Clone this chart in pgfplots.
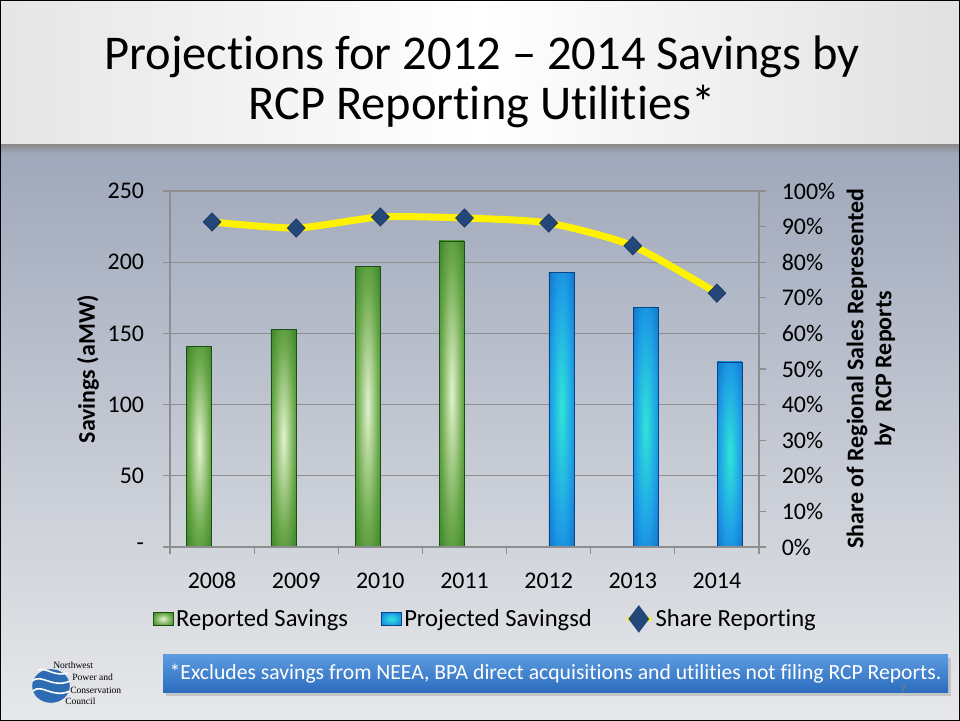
\documentclass[border=0pt]{standalone}
\usepackage{fontspec}
\setmainfont{Carlito}[Ligatures=NoCommon]
\newfontfamily\logofont{Liberation Serif}
\usepackage{pgfplots}
\pgfplotsset{compat=1.18}

\definecolor{bgtop}{HTML}{9EA7BA}
\definecolor{bgbot}{HTML}{E7E8EA}
\definecolor{gdark}{HTML}{257318}
\definecolor{gmid}{HTML}{6AA84A}
\definecolor{glight}{HTML}{E2F2CC}
\definecolor{bdark}{HTML}{0A62C2}
\definecolor{bmid}{HTML}{1E9EE6}
\definecolor{blight}{HTML}{2FE6D8}
\definecolor{mk}{HTML}{24477A}
\definecolor{gridc}{HTML}{8E8E8E}
\definecolor{boxtop}{HTML}{5C9BDF}
\definecolor{boxbot}{HTML}{2A6BBE}
\definecolor{logoblue}{HTML}{2E6BB5}

\pgfdeclareradialshading{greenbar}{\pgfpoint{0bp}{0bp}}{%
  color(0bp)=(glight); color(22bp)=(gmid); color(42bp)=(gdark); color(50bp)=(gdark)}
\pgfdeclareradialshading{bluebar}{\pgfpoint{0bp}{0bp}}{%
  color(0bp)=(blight); color(22bp)=(bmid); color(42bp)=(bdark); color(50bp)=(bdark)}

\pgfplotsset{
  slide/.style={
    at={(4.25cm,4.35cm)}, anchor=south west,
    scale only axis, width=14.725cm, height=8.9cm,
    xmin=-0.5, xmax=6.5,
    tick align=outside, major tick length=0.175cm,
    axis line style={gridc, line width=0.8pt},
    tick style={gridc, line width=0.8pt},
    tick label style={font=\fontsize{17}{20}\selectfont},
  },
  rep/.style={ybar, bar width=0.625cm, bar shift=-0.32cm, draw=gdark!70!black,
    line width=0.4pt, shading=greenbar},
  proj/.style={ybar, bar width=0.625cm, bar shift=0.32cm, draw=bdark!70!black,
    line width=0.4pt, shading=bluebar},
}

\begin{document}
\begin{tikzpicture}
\useasboundingbox (0,0) rectangle (24,18.025);
% slide background
\fill[top color=bgtop, bottom color=bgbot] (0,0) rectangle (24,14.4);
\shade[left color=black!10, right color=black!12, middle color=white] (0,14.4) rectangle (24,18.025);
\shade[top color=black!45, bottom color=bgtop] (0,14.2) rectangle (24,14.4);
\node[align=center, font=\fontsize{34.5}{35.5}\selectfont] at (12.05,15.98)
  {Projections for 2012 -- 2014 Savings by\\RCP Reporting Utilities*};

% savings axis
\begin{axis}[slide,
    ymin=0, ymax=250,
    axis y line*=left, axis x line*=bottom,
    xtick={0,...,6}, xtick style={draw=none},
    xticklabels={2008,2009,2010,2011,2012,2013,2014},
    xticklabel style={anchor=base, yshift=-0.86cm},
    ytick={0,50,...,250}, yticklabels={-,50,100,150,200,250},
    yticklabel style={xshift=-0.35cm},
    ymajorgrids, grid style={gridc, line width=0.8pt},
    ylabel={Savings (aMW)},
    ylabel style={at={(axis description cs:-0.139,0.5)}, anchor=center,
      font=\bfseries\fontsize{17}{20}\selectfont},
]
\addplot[rep] coordinates {(0,141)};
\addplot[rep] coordinates {(1,153)};
\addplot[rep] coordinates {(2,197)};
\addplot[rep] coordinates {(3,215)};
\addplot[proj] coordinates {(4,193)};
\addplot[proj] coordinates {(5,168.5)};
\addplot[proj] coordinates {(6,130)};
\end{axis}

% share axis
\begin{axis}[slide,
    ymin=0, ymax=100,
    axis y line*=right, axis x line*=bottom,
    xtick={-0.5,0.5,...,6.5}, xticklabels={},
    ytick={0,10,...,100},
    yticklabels={0\%,10\%,20\%,30\%,40\%,50\%,60\%,70\%,80\%,90\%,100\%},
    yticklabel style={xshift=0.27cm},
    ylabel={Share of Regional Sales Represented\\by\ \ RCP Reports},
    ylabel style={at={(axis description cs:1.19,0.5)}, anchor=center, align=center,
      font=\bfseries\fontsize{17}{20}\selectfont},
    legend style={at={(axis description cs:0.536,-0.202)}, anchor=center,
      draw=none, fill=none, legend columns=3,
      font=\fontsize{17.5}{20}\selectfont,
      /tikz/every even column/.append style={column sep=0.75cm}},
]
\addlegendimage{legend image code/.code={
  \shade[shading=greenbar, draw=gdark!70!black]
    (0cm,-0.17cm) rectangle (0.5cm,0.17cm);}}
\addlegendentry{Reported Savings}
\addlegendimage{legend image code/.code={
  \shade[shading=bluebar, draw=bdark!70!black]
    (0cm,-0.17cm) rectangle (0.5cm,0.17cm);}}
\addlegendentry{Projected Savingsd}
\addplot[yellow, line width=5pt, smooth, tension=0.4,
  mark=diamond*, mark size=6.5pt,
  mark options={fill=mk, draw=mk!80!black, line width=0.5pt, xscale=1.3},
  legend image code/.code={
    \draw[yellow, line width=3pt] (0cm,0cm) -- (0.6cm,0cm);
    \fill[mk] (0.3cm,0.2cm) -- (0.45cm,0cm) -- (0.3cm,-0.2cm) -- (0.15cm,0cm) -- cycle;}]
  coordinates {(0,91.3) (1,89.6) (2,92.7) (3,92.4) (4,91.0) (5,84.6) (6,71.3)};
\addlegendentry{Share Reporting}
\end{axis}

% footnote box
\fill[black!35, opacity=0.5] (4.15,0.62) rectangle (23.78,1.57);
\fill[top color=boxtop, bottom color=boxbot] (4.075,0.7) rectangle (23.7,1.65);
\node[white, font=\fontsize{15.4}{18}\selectfont] at (13.89,1.175)
  {*Excludes savings from NEEA, BPA direct acquisitions and utilities not filing RCP Reports.};
\node[black!50, font=\fontsize{8}{9}\selectfont] at (22.575,0.78) {7};

% council logo
\fill[logoblue] (1.275,0.875) ellipse (0.47 and 0.42);
\begin{scope}[white, line width=1.1pt]
\draw (0.8,1.0) .. controls (1.05,1.2) and (1.3,0.8) .. (1.75,1.0);
\draw (0.82,0.75) .. controls (1.05,0.95) and (1.3,0.55) .. (1.75,0.75);
\draw (0.95,1.28) .. controls (1.15,1.35) and (1.35,1.1) .. (1.7,1.2);
\end{scope}
\begin{scope}[font=\logofont\fontsize{6.8}{7}\selectfont, anchor=west, inner sep=0pt]
\node at (1.325,1.4) {Northwest};
\node at (1.8,1.1) {Power and};
\node at (1.75,0.775) {Conservation};
\node at (1.625,0.5) {Council};
\end{scope}

\draw[line width=0.06cm] (0,0) rectangle (24,18.025);
\end{tikzpicture}
\end{document}
